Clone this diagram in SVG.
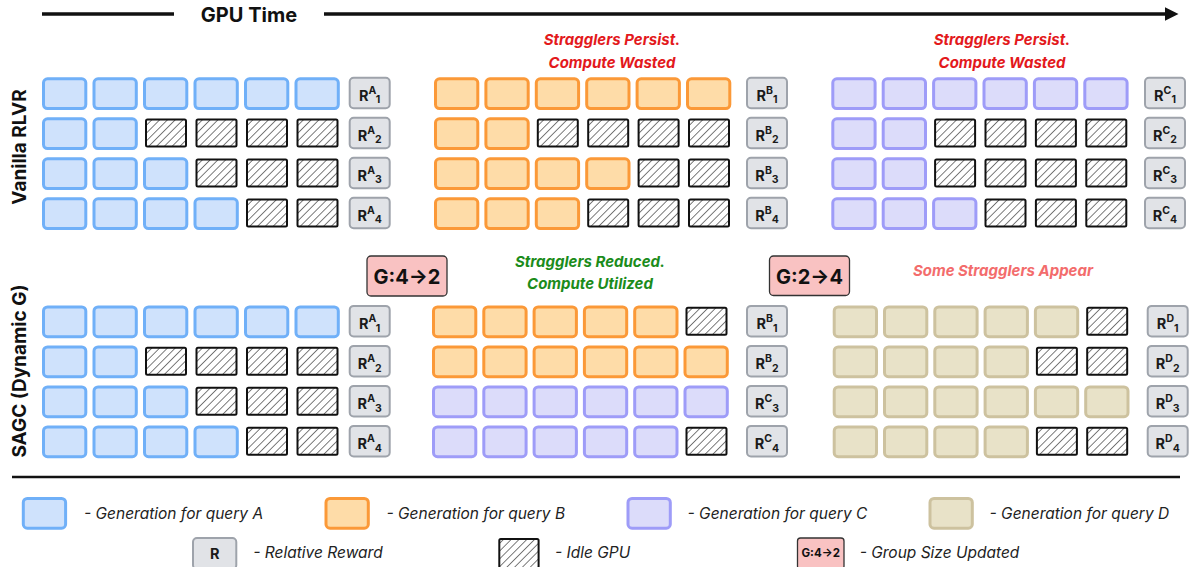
<svg xmlns="http://www.w3.org/2000/svg" xmlns:xlink="http://www.w3.org/1999/xlink" width="1192" height="567" viewBox="0 0 1192 567">
<style>
.a{fill:#cfe2fc;stroke:#70b0f8;stroke-width:3}
.b{fill:#fedca8;stroke:#fb9938;stroke-width:3}
.c{fill:#dcdcfa;stroke:#9e9cf8;stroke-width:3}
.d{fill:#e8e2c8;stroke:#cdc29f;stroke-width:3}
.h{fill:url(#hatch);stroke:#111;stroke-width:2}
.r{fill:#e1e3e7;stroke:#9ea3ab;stroke-width:2}
.g{fill:#f9c2c2;stroke:#333;stroke-width:1.3}
.rt{font-family:Inter,"Liberation Sans",sans-serif;font-weight:700;font-size:14.5px;fill:#1a1a1a;text-anchor:middle}
.s{font-size:10.5px}
.lab{font-family:Inter,"Liberation Sans",sans-serif;font-weight:700;font-size:19px;fill:#111;text-anchor:middle}
.note{font-family:Inter,"Liberation Sans",sans-serif;font-weight:700;font-style:italic;font-size:15px;text-anchor:middle}
.red{fill:#e3191c}.green{fill:#1b8c1b}.pink{fill:#f36c6c}
.leg{font-family:Inter,"Liberation Sans",sans-serif;font-style:italic;font-size:15.5px;fill:#222}
.gt{font-family:Inter,"DejaVu Sans",sans-serif;font-weight:700;font-size:20px;fill:#111;text-anchor:middle}
</style>
<defs>
<pattern id="hatch" patternUnits="userSpaceOnUse" width="5.5" height="5.5" patternTransform="rotate(45)">
<rect width="5.5" height="5.5" fill="#fff"/>
<line x1="0" y1="0" x2="0" y2="5.5" stroke="#111" stroke-width="1.1"/>
</pattern>
<marker id="arr" markerWidth="5" markerHeight="4" refX="1" refY="2" orient="auto" markerUnits="strokeWidth">
<path d="M0,0 L4,2 L0,4 Z" fill="#111"/>
</marker>
<rect id="ca" class="a" width="42.3" height="29.7" rx="4"/>
<rect id="cb" class="b" width="42.3" height="29.7" rx="4"/>
<rect id="cc" class="c" width="42.3" height="29.7" rx="4"/>
<rect id="cd" class="d" width="42.3" height="29.7" rx="4"/>
<rect id="ch" class="h" x="1.5" y="0.7" width="40" height="27" rx="1.5"/>
<rect id="rb" class="r" width="40" height="30.6" rx="4"/>
</defs>
<rect width="1192" height="567" fill="#fff"/>

<g id="connectors">
<line x1="42" y1="14" x2="174" y2="14" stroke="#111" stroke-width="3.5"/>
<line x1="324" y1="14" x2="1168" y2="14" stroke="#111" stroke-width="3.5" marker-end="url(#arr)"/>
<line x1="12" y1="477" x2="1180" y2="477" stroke="#111" stroke-width="2.5"/>
</g>

<g id="title"><text x="249" y="22" font-family="Inter,'Liberation Sans',sans-serif" font-weight="700" font-size="20" fill="#111" text-anchor="middle">GPU Time</text></g>

<g id="label-vanilla"><text class="lab" transform="translate(26,147) rotate(-90)">Vanilla RLVR</text></g>
<g id="label-sagc"><text class="lab" transform="translate(26,371) rotate(-90)">SAGC (Dynamic G)</text></g>

<g id="note-b"><text class="note red" x="612" y="45">Stragglers Persist.</text><text class="note red" x="612" y="67.5">Compute Wasted</text></g>
<g id="note-c"><text class="note red" x="1002" y="45">Stragglers Persist.</text><text class="note red" x="1002" y="67.5">Compute Wasted</text></g>
<g id="note-sagc-b"><text class="note green" x="590" y="266.5">Stragglers Reduced.</text><text class="note green" x="590" y="289">Compute Utilized</text></g>
<g id="note-sagc-d"><text class="note pink" x="1003" y="276">Some Stragglers Appear</text></g>

<g id="g-update-1"><rect class="g" x="367" y="256" width="80" height="40" rx="4"/><text class="gt" x="407" y="283.5">G:4→2</text></g>
<g id="g-update-2"><rect class="g" x="769.5" y="256" width="80" height="39.5" rx="4"/><text class="gt" x="809.5" y="283.5">G:2→4</text></g>

<!-- Vanilla RLVR -->
<g id="v-A">
<use href="#ca" x="43.5" y="78.8"/><use href="#ca" x="94" y="78.8"/><use href="#ca" x="144.5" y="78.8"/><use href="#ca" x="195" y="78.8"/><use href="#ca" x="245.5" y="78.8"/><use href="#ca" x="296" y="78.8"/>
<use href="#ca" x="43.5" y="118.8"/><use href="#ca" x="94" y="118.8"/><use href="#ch" x="144.5" y="118.8"/><use href="#ch" x="195" y="118.8"/><use href="#ch" x="245.5" y="118.8"/><use href="#ch" x="296" y="118.8"/>
<use href="#ca" x="43.5" y="158.8"/><use href="#ca" x="94" y="158.8"/><use href="#ca" x="144.5" y="158.8"/><use href="#ch" x="195" y="158.8"/><use href="#ch" x="245.5" y="158.8"/><use href="#ch" x="296" y="158.8"/>
<use href="#ca" x="43.5" y="198.8"/><use href="#ca" x="94" y="198.8"/><use href="#ca" x="144.5" y="198.8"/><use href="#ca" x="195" y="198.8"/><use href="#ch" x="245.5" y="198.8"/><use href="#ch" x="296" y="198.8"/>
</g>
<g id="v-RA">
<use href="#rb" x="349.7" y="77.7"/><text class="rt" x="369.7" y="100.7">R<tspan class="s" dy="-7">A</tspan><tspan class="s" dy="9.5">1</tspan></text>
<use href="#rb" x="349.7" y="117.7"/><text class="rt" x="369.7" y="140.7">R<tspan class="s" dy="-7">A</tspan><tspan class="s" dy="9.5">2</tspan></text>
<use href="#rb" x="349.7" y="157.7"/><text class="rt" x="369.7" y="180.7">R<tspan class="s" dy="-7">A</tspan><tspan class="s" dy="9.5">3</tspan></text>
<use href="#rb" x="349.7" y="197.7"/><text class="rt" x="369.7" y="220.7">R<tspan class="s" dy="-7">A</tspan><tspan class="s" dy="9.5">4</tspan></text>
</g>
<g id="v-B">
<use href="#cb" x="435.5" y="78.8"/><use href="#cb" x="485.9" y="78.8"/><use href="#cb" x="536.3" y="78.8"/><use href="#cb" x="586.7" y="78.8"/><use href="#cb" x="637.1" y="78.8"/><use href="#cb" x="687.5" y="78.8"/>
<use href="#cb" x="435.5" y="118.8"/><use href="#cb" x="485.9" y="118.8"/><use href="#ch" x="536.3" y="118.8"/><use href="#ch" x="586.7" y="118.8"/><use href="#ch" x="637.1" y="118.8"/><use href="#ch" x="687.5" y="118.8"/>
<use href="#cb" x="435.5" y="158.8"/><use href="#cb" x="485.9" y="158.8"/><use href="#cb" x="536.3" y="158.8"/><use href="#cb" x="586.7" y="158.8"/><use href="#ch" x="637.1" y="158.8"/><use href="#ch" x="687.5" y="158.8"/>
<use href="#cb" x="435.5" y="198.8"/><use href="#cb" x="485.9" y="198.8"/><use href="#cb" x="536.3" y="198.8"/><use href="#ch" x="586.7" y="198.8"/><use href="#ch" x="637.1" y="198.8"/><use href="#ch" x="687.5" y="198.8"/>
</g>
<g id="v-RB">
<use href="#rb" x="747" y="77.7"/><text class="rt" x="767" y="100.7">R<tspan class="s" dy="-7">B</tspan><tspan class="s" dy="9.5">1</tspan></text>
<use href="#rb" x="747" y="117.7"/><text class="rt" x="767" y="140.7">R<tspan class="s" dy="-7">B</tspan><tspan class="s" dy="9.5">2</tspan></text>
<use href="#rb" x="747" y="157.7"/><text class="rt" x="767" y="180.7">R<tspan class="s" dy="-7">B</tspan><tspan class="s" dy="9.5">3</tspan></text>
<use href="#rb" x="747" y="197.7"/><text class="rt" x="767" y="220.7">R<tspan class="s" dy="-7">B</tspan><tspan class="s" dy="9.5">4</tspan></text>
</g>
<g id="v-C">
<use href="#cc" x="832.8" y="78.8"/><use href="#cc" x="883.2" y="78.8"/><use href="#cc" x="933.6" y="78.8"/><use href="#cc" x="984" y="78.8"/><use href="#cc" x="1034.4" y="78.8"/><use href="#cc" x="1084.8" y="78.8"/>
<use href="#cc" x="832.8" y="118.8"/><use href="#cc" x="883.2" y="118.8"/><use href="#ch" x="933.6" y="118.8"/><use href="#ch" x="984" y="118.8"/><use href="#ch" x="1034.4" y="118.8"/><use href="#ch" x="1084.8" y="118.8"/>
<use href="#cc" x="832.8" y="158.8"/><use href="#cc" x="883.2" y="158.8"/><use href="#ch" x="933.6" y="158.8"/><use href="#ch" x="984" y="158.8"/><use href="#ch" x="1034.4" y="158.8"/><use href="#ch" x="1084.8" y="158.8"/>
<use href="#cc" x="832.8" y="198.8"/><use href="#cc" x="883.2" y="198.8"/><use href="#cc" x="933.6" y="198.8"/><use href="#ch" x="984" y="198.8"/><use href="#ch" x="1034.4" y="198.8"/><use href="#ch" x="1084.8" y="198.8"/>
</g>
<g id="v-RC">
<use href="#rb" x="1145" y="77.7"/><text class="rt" x="1165" y="100.7">R<tspan class="s" dy="-7">C</tspan><tspan class="s" dy="9.5">1</tspan></text>
<use href="#rb" x="1145" y="117.7"/><text class="rt" x="1165" y="140.7">R<tspan class="s" dy="-7">C</tspan><tspan class="s" dy="9.5">2</tspan></text>
<use href="#rb" x="1145" y="157.7"/><text class="rt" x="1165" y="180.7">R<tspan class="s" dy="-7">C</tspan><tspan class="s" dy="9.5">3</tspan></text>
<use href="#rb" x="1145" y="197.7"/><text class="rt" x="1165" y="220.7">R<tspan class="s" dy="-7">C</tspan><tspan class="s" dy="9.5">4</tspan></text>
</g>

<!-- SAGC -->
<g id="s-A">
<use href="#ca" x="43.5" y="307"/><use href="#ca" x="94" y="307"/><use href="#ca" x="144.5" y="307"/><use href="#ca" x="195" y="307"/><use href="#ca" x="245.5" y="307"/><use href="#ca" x="296" y="307"/>
<use href="#ca" x="43.5" y="347"/><use href="#ca" x="94" y="347"/><use href="#ch" x="144.5" y="347"/><use href="#ch" x="195" y="347"/><use href="#ch" x="245.5" y="347"/><use href="#ch" x="296" y="347"/>
<use href="#ca" x="43.5" y="387"/><use href="#ca" x="94" y="387"/><use href="#ca" x="144.5" y="387"/><use href="#ch" x="195" y="387"/><use href="#ch" x="245.5" y="387"/><use href="#ch" x="296" y="387"/>
<use href="#ca" x="43.5" y="427"/><use href="#ca" x="94" y="427"/><use href="#ca" x="144.5" y="427"/><use href="#ca" x="195" y="427"/><use href="#ch" x="245.5" y="427"/><use href="#ch" x="296" y="427"/>
</g>
<g id="s-RA">
<use href="#rb" x="349.7" y="305.9"/><text class="rt" x="369.7" y="329">R<tspan class="s" dy="-7">A</tspan><tspan class="s" dy="9.5">1</tspan></text>
<use href="#rb" x="349.7" y="345.9"/><text class="rt" x="369.7" y="369">R<tspan class="s" dy="-7">A</tspan><tspan class="s" dy="9.5">2</tspan></text>
<use href="#rb" x="349.7" y="385.9"/><text class="rt" x="369.7" y="409">R<tspan class="s" dy="-7">A</tspan><tspan class="s" dy="9.5">3</tspan></text>
<use href="#rb" x="349.7" y="425.9"/><text class="rt" x="369.7" y="449">R<tspan class="s" dy="-7">A</tspan><tspan class="s" dy="9.5">4</tspan></text>
</g>
<g id="s-BC">
<use href="#cb" x="433.5" y="307"/><use href="#cb" x="483.8" y="307"/><use href="#cb" x="534.1" y="307"/><use href="#cb" x="584.4" y="307"/><use href="#cb" x="634.7" y="307"/><use href="#ch" x="685" y="307"/>
<use href="#cb" x="433.5" y="347"/><use href="#cb" x="483.8" y="347"/><use href="#cb" x="534.1" y="347"/><use href="#cb" x="584.4" y="347"/><use href="#cb" x="634.7" y="347"/><use href="#cb" x="685" y="347"/>
<use href="#cc" x="433.5" y="387"/><use href="#cc" x="483.8" y="387"/><use href="#cc" x="534.1" y="387"/><use href="#cc" x="584.4" y="387"/><use href="#cc" x="634.7" y="387"/><use href="#cc" x="685" y="387"/>
<use href="#cc" x="433.5" y="427"/><use href="#cc" x="483.8" y="427"/><use href="#cc" x="534.1" y="427"/><use href="#cc" x="584.4" y="427"/><use href="#cc" x="634.7" y="427"/><use href="#ch" x="685" y="427"/>
</g>
<g id="s-RBC">
<use href="#rb" x="747" y="305.9"/><text class="rt" x="767" y="329">R<tspan class="s" dy="-7">B</tspan><tspan class="s" dy="9.5">1</tspan></text>
<use href="#rb" x="747" y="345.9"/><text class="rt" x="767" y="369">R<tspan class="s" dy="-7">B</tspan><tspan class="s" dy="9.5">2</tspan></text>
<use href="#rb" x="747" y="385.9"/><text class="rt" x="767" y="409">R<tspan class="s" dy="-7">C</tspan><tspan class="s" dy="9.5">3</tspan></text>
<use href="#rb" x="747" y="425.9"/><text class="rt" x="767" y="449">R<tspan class="s" dy="-7">C</tspan><tspan class="s" dy="9.5">4</tspan></text>
</g>
<g id="s-D">
<use href="#cd" x="834.2" y="307"/><use href="#cd" x="884.5" y="307"/><use href="#cd" x="934.8" y="307"/><use href="#cd" x="985.1" y="307"/><use href="#cd" x="1035.4" y="307"/><use href="#ch" x="1085.7" y="307"/>
<use href="#cd" x="834.2" y="347"/><use href="#cd" x="884.5" y="347"/><use href="#cd" x="934.8" y="347"/><use href="#cd" x="985.1" y="347"/><use href="#ch" x="1035.4" y="347"/><use href="#ch" x="1085.7" y="347"/>
<use href="#cd" x="834.2" y="387"/><use href="#cd" x="884.5" y="387"/><use href="#cd" x="934.8" y="387"/><use href="#cd" x="985.1" y="387"/><use href="#cd" x="1035.4" y="387"/><use href="#cd" x="1085.7" y="387"/>
<use href="#cd" x="834.2" y="427"/><use href="#cd" x="884.5" y="427"/><use href="#cd" x="934.8" y="427"/><use href="#cd" x="985.1" y="427"/><use href="#ch" x="1035.4" y="427"/><use href="#ch" x="1085.7" y="427"/>
</g>
<g id="s-RD">
<use href="#rb" x="1147.7" y="305.9"/><text class="rt" x="1167.7" y="329">R<tspan class="s" dy="-7">D</tspan><tspan class="s" dy="9.5">1</tspan></text>
<use href="#rb" x="1147.7" y="345.9"/><text class="rt" x="1167.7" y="369">R<tspan class="s" dy="-7">D</tspan><tspan class="s" dy="9.5">2</tspan></text>
<use href="#rb" x="1147.7" y="385.9"/><text class="rt" x="1167.7" y="409">R<tspan class="s" dy="-7">D</tspan><tspan class="s" dy="9.5">3</tspan></text>
<use href="#rb" x="1147.7" y="425.9"/><text class="rt" x="1167.7" y="449">R<tspan class="s" dy="-7">D</tspan><tspan class="s" dy="9.5">4</tspan></text>
</g>

<!-- Legend -->
<g id="legend-a"><use href="#ca" x="23.3" y="498.5"/><text class="leg" x="84" y="518.5">- Generation for query A</text></g>
<g id="legend-b"><use href="#cb" x="326" y="498.5"/><text class="leg" x="386.5" y="518.5">- Generation for query B</text></g>
<g id="legend-c"><use href="#cc" x="628" y="498.5"/><text class="leg" x="687.6" y="518.5">- Generation for query C</text></g>
<g id="legend-d"><use href="#cd" x="930" y="498.5"/><text class="leg" x="989.6" y="518.5">- Generation for query D</text></g>
<g id="legend-r"><rect class="r" x="193" y="538" width="43.3" height="31" rx="4"/><text class="rt" x="214.7" y="559">R</text><text class="leg" x="253.3" y="558">- Relative Reward</text></g>
<g id="legend-idle"><rect class="h" x="499.3" y="539" width="39.3" height="29" rx="1.5"/><text class="leg" x="555" y="558">- Idle GPU</text></g>
<g id="legend-g"><rect class="g" x="797.5" y="538" width="46.5" height="31" rx="3"/><text x="820.7" y="557" font-family="Inter,'DejaVu Sans',sans-serif" font-weight="700" font-size="11.5" fill="#111" text-anchor="middle">G:4→2</text><text class="leg" x="859.7" y="558">- Group Size Updated</text></g>
</svg>
